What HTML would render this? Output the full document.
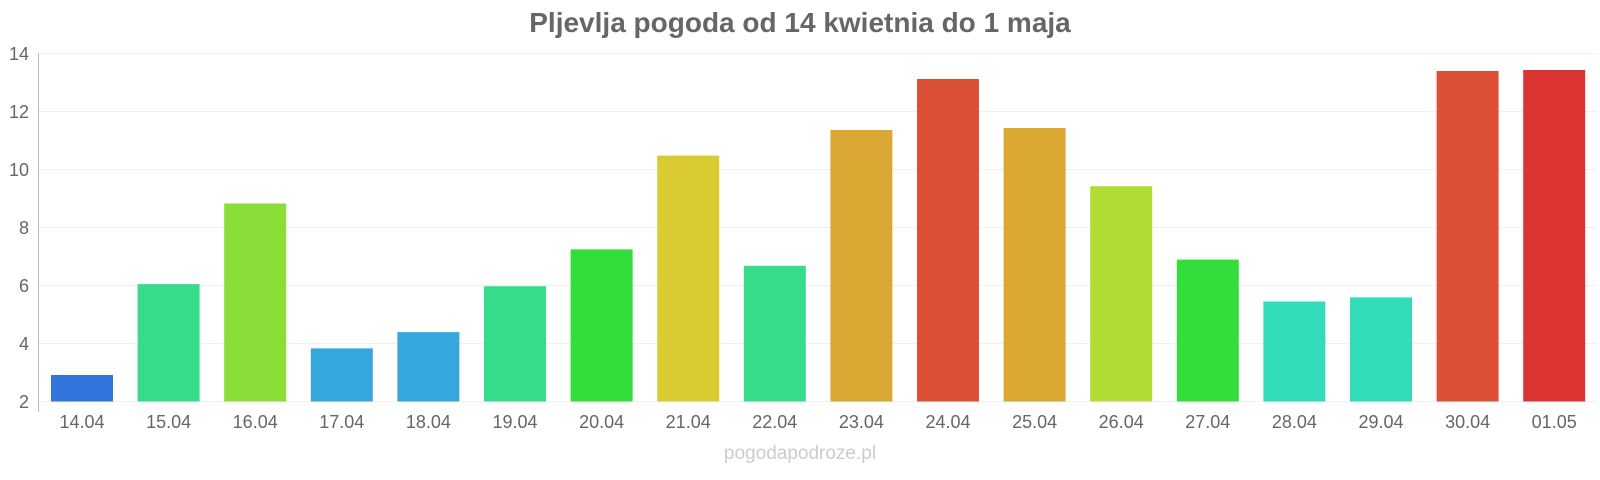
<!DOCTYPE html>
<html><head><meta charset="utf-8"><style>
html,body{margin:0;padding:0;background:#fff;}
svg{display:block;font-family:"Liberation Sans",Arial,sans-serif;}
</style></head><body>
<svg width="1600" height="480" xmlns="http://www.w3.org/2000/svg">
<text x="800" y="32" text-anchor="middle" font-size="28" font-weight="bold" fill="#666">Pljevlja pogoda od 14 kwietnia do 1 maja</text>
<g stroke="#f0f0f0" stroke-width="1">
<line x1="38" x2="1597" y1="53.5" y2="53.5"/>
<line x1="38" x2="1597" y1="111.5" y2="111.5"/>
<line x1="38" x2="1597" y1="169.5" y2="169.5"/>
<line x1="38" x2="1597" y1="227.5" y2="227.5"/>
<line x1="38" x2="1597" y1="285.5" y2="285.5"/>
<line x1="38" x2="1597" y1="343.5" y2="343.5"/>
<line x1="38" x2="1597" y1="401.5" y2="401.5"/>
</g>
<line x1="38.5" x2="38.5" y1="53" y2="412" stroke="#bbb"/>
<g font-size="18" fill="#666" text-anchor="end">
<text x="29" y="60">14</text><text x="29" y="118">12</text><text x="29" y="176">10</text>
<text x="29" y="234">8</text><text x="29" y="292">6</text><text x="29" y="350">4</text><text x="29" y="408">2</text>
</g>
<text x="800" y="459" text-anchor="middle" font-size="19" fill="#ccc">pogodapodroze.pl</text>
<g>
<rect x="51" y="375" width="62" height="26.5" fill="#3275dd"/>
<rect x="137.6" y="284.1" width="62" height="117.4" fill="#36dc8a"/>
<rect x="224.2" y="203.5" width="62" height="198" fill="#8ade37"/>
<rect x="310.8" y="348.4" width="62" height="53.1" fill="#36a7dc"/>
<rect x="397.4" y="332.1" width="62" height="69.4" fill="#36a7dc"/>
<rect x="484" y="286.2" width="62" height="115.3" fill="#36dc8a"/>
<rect x="570.6" y="249.4" width="62" height="152.1" fill="#33dd3a"/>
<rect x="657.2" y="155.6" width="62" height="245.9" fill="#dacb33"/>
<rect x="743.8" y="265.8" width="62" height="135.7" fill="#36dc8a"/>
<rect x="830.4" y="130" width="62" height="271.5" fill="#dba733"/>
<rect x="917" y="79" width="62" height="322.5" fill="#dc5035"/>
<rect x="1003.6" y="128" width="62" height="273.5" fill="#dba733"/>
<rect x="1090.2" y="186.2" width="62" height="215.3" fill="#b0dd33"/>
<rect x="1176.8" y="259.6" width="62" height="141.9" fill="#33dd3a"/>
<rect x="1263.4" y="301.5" width="62" height="100" fill="#33dcb8"/>
<rect x="1350" y="297.4" width="62" height="104.1" fill="#33dcb8"/>
<rect x="1436.6" y="71" width="62" height="330.5" fill="#dc5035"/>
<rect x="1523.2" y="70" width="62" height="331.5" fill="#dc3333"/>
</g>
<g font-size="18" fill="#666" text-anchor="middle">
<text x="82" y="428">14.04</text><text x="168.6" y="428">15.04</text><text x="255.2" y="428">16.04</text>
<text x="341.8" y="428">17.04</text><text x="428.4" y="428">18.04</text><text x="515" y="428">19.04</text>
<text x="601.6" y="428">20.04</text><text x="688.2" y="428">21.04</text><text x="774.8" y="428">22.04</text>
<text x="861.4" y="428">23.04</text><text x="948" y="428">24.04</text><text x="1034.6" y="428">25.04</text>
<text x="1121.2" y="428">26.04</text><text x="1207.8" y="428">27.04</text><text x="1294.4" y="428">28.04</text>
<text x="1381" y="428">29.04</text><text x="1467.6" y="428">30.04</text><text x="1554.2" y="428">01.05</text>
</g>
</svg>
</body></html>
